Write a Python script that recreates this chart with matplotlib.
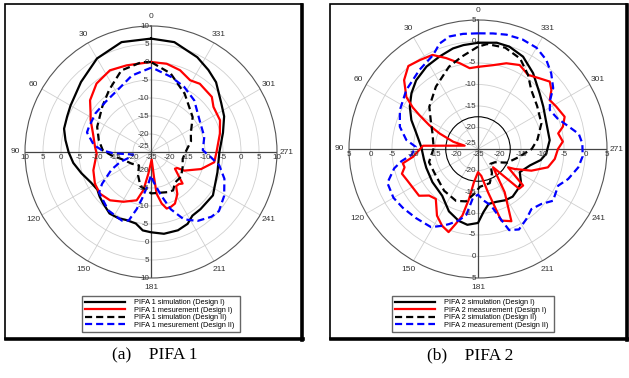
import numpy as np
import matplotlib
matplotlib.use('Agg')
import matplotlib.pyplot as plt
from matplotlib.lines import Line2D
from matplotlib.patches import Rectangle, Circle

plt.rcParams['font.family'] = ['Liberation Sans', 'DejaVu Sans']

# angle labels round the dial
theta_ticks = [0, 30, 60, 90, 120, 150, 180, 210, 240, 270, 300, 330]
theta_labels = ['0', '30', '60', '90', '120', '150', '181', '211', '241', '271', '301', '331']

# ---- PIFA 1 (angle in deg, gain in dB) ----
p1_sim1_ang = [0, 15, 30, 45, 60, 67, 75, 82, 90, 98, 107, 117, 125, 131, 137, 146, 154, 160, 168, 174,
               180, 189, 199, 207, 213, 221, 235, 253, 270, 285, 296, 305, 317, 325, 334, 348]
p1_sim1_db = [6.5, 6.6, 5, 2.5, 0.8, 0.3, 0, -1, -2.1, -3.2, -4.8, -6.3, -6.8, -6.1, -5.5, -4.4, -4.5, -4.9, -4.7, -3.1,
              -2.7, -2, -2, -2.6, -3.9, -4, -4, -5.7, -6, -4.3, -2.4, -1.2, 1.5, 2.8, 4.3, 6.2]

p1_mes1_ang = [0, 15.7, 26.7, 38.5, 49.7, 57.9, 62, 72.4, 84.9, 91.8, 107.6, 119.5, 129.2, 139.7, 151, 163.5,
               168.7, 173, 185, 186.8, 187.7, 191.7, 195.5, 200, 204.9, 212, 216.3, 221, 225, 235.2, 238.5,
               240.8, 251.2, 260.8, 270, 284.9, 294.7, 305.8, 312.2, 324.4, 331.4, 340.4, 349.9]
p1_mes1_db = [0, 0, 0.4, -0.7, -2.8, -5.2, -6, -8.1, -9.4, -9.9, -8.2, -7.1, -6.7, -7.4, -9.2, -11,
              -14.2, -18.9, -22.9, -18, -13.3, -10.4, -8.7, -8.8, -9.2, -11.2, -13.2, -13.2, -12.6, -16.9, -16.5,
              -14.4, -10.3, -7.2, -6.8, -5.2, -3.9, -3.6, -2.2, -1.7, -2.3, -0.9, -0.1]

p1_sim2_ang = [0, 6, 20, 34, 47, 65, 77, 88, 95, 104, 122, 138, 151, 163, 174, 180, 193, 203, 210, 218,
               231, 245, 258, 270, 285, 295, 310, 330, 346]
p1_sim2_db = [0, 0.1, -0.9, -4.2, -6.5, -8.5, -10.1, -11.6, -14, -16.7, -18.8, -20, -17.6, -15, -14.3, -13.5,
              -13.4, -12.9, -12.7, -14.2, -14.2, -15.3, -16, -15.4, -13.5, -12.8, -9.9, -6.3, -2.5]

p1_mes2_ang = [0, 14, 27, 42, 55, 68, 73, 83, 88, 92, 98, 104, 108, 114, 123, 128, 144, 157, 162, 166, 169,
               175, 180, 185, 193, 199, 206, 214, 223, 229, 239, 250, 259, 265, 272, 286, 303, 320, 333, 345, 358]
p1_mes2_db = [-1.6, -3.1, -5.3, -6.2, -6.2, -6.4, -6.4, -9, -11.4, -14.5, -20, -19, -16, -13, -8.8, -6.7, -4.9,
              -4.3, -5, -8.7, -11.7, -16, -18.5, -16.6, -12.7, -8.2, -4.2, -1.9, -0.4, 0, -1.3, -3.3, -5.7,
              -8.3, -10.6, -9.6, -8.9, -6.3, -4.7, -3.4, -1.8]

# ---- PIFA 2 ----
p2_sim1_ang = [0, 8, 14, 22.5, 32, 42, 50, 58, 66.5, 75.7, 88, 101, 110, 126, 142.6, 155, 165, 172, 180, 185,
               191, 199, 208, 216, 224, 232, 241, 252.6, 260, 266, 277, 290.6, 303, 312, 324, 334, 343, 350]
p2_sim1_db = [-0.3, -0.6, -0.9, -1.7, -2.4, -3.5, -4.8, -6.3, -8.1, -10.2, -11.8, -12.2, -12.2, -11.9, -11.3,
              -9, -7.7, -7.2, -7.8, -10.3, -12, -12, -11.5, -11.3, -11.8, -12.3, -13.9, -12.3, -10.2, -9.1,
              -8.2, -8, -6.9, -5.7, -3.2, -1.1, -0.1, 0.1]

p2_mes1_ang = [0, 5.9, 12, 19.3, 25.8, 33, 40, 47, 54, 57.5, 60, 64, 68, 73.7, 76, 86.6, 96.8, 100.8, 104,
               108, 114, 128.4, 133.6, 139.8, 148.4, 154.9, 160.5, 163.4, 166.8, 169.8, 173, 180, 187, 193,
               198, 204.8, 211.7, 219.5, 226, 231, 238.6, 241.4, 247.9, 255.3, 262.6, 270, 275, 281, 284.7,
               290.4, 298.4, 304.3, 308.8, 313.2, 318.9, 326, 333.6, 341.7, 349.9]
p2_mes1_db = [-5.9, -6.1, -4.6, -2.6, -0.7, -0.3, 0.2, -1.5, -4.4, -7, -9.3, -12.4, -15.4, -19, -21.8, -12.2,
              -9.8, -7.2, -7.4, -6.4, -7, -7.5, -9.3, -9.8, -6.8, -5.3, -4.5, -6.8, -9.1, -13.2, -17.2,
              -19.6, -18.7, -14.7, -7.5, -6.5, -13.2, -19.5, -11.7, -11.5, -16.8, -15.3, -11.6, -8.2, -7,
              -6.4, -5.2, -6, -4.6, -3.5, -4.3, -4.8, -3.1, -2.1, -3.2, -4.2, -3.2, -4, -5.2]

p2_sim2_ang = [0, 10, 19.4, 34, 49, 58.5, 71, 89, 105, 122, 141, 157, 167, 175, 183, 199, 210, 220, 232,
               245, 258, 270, 279, 292, 306, 318, 326, 335, 345, 355]
p2_sim2_db = [-1.2, -3.2, -4.7, -7.5, -10, -12.1, -13.8, -14.7, -13.2, -13.4, -12.5, -11.9, -12.5, -14.5,
              -16.2, -16.6, -18.5, -20.5, -20, -17.5, -15.5, -12.5, -11, -9.1, -8, -6.5, -4.2, -1.8, -0.6, -0.5]

p2_mes2_ang = [0, 7.4, 14.2, 20, 25.6, 36.4, 50.5, 63.5, 74.1, 82.8, 88, 95, 99, 103, 110.5, 120, 128, 138,
               149, 155, 159, 165, 170, 174, 180, 186, 193, 198, 201, 207, 214.6, 221.6, 229, 235.4, 245.4,
               251.6, 259.6, 266, 273, 278.5, 284, 291, 298.5, 304, 309, 316, 322.5, 330, 338, 346, 352.6]
p2_mes2_db = [1.9, 2, 2, 1.1, -0.8, -2.1, -3.4, -4.7, -6.1, -8.2, -10.5, -9.5, -7, -5, -2.5, -2.3, -2.8, -3.4,
              -3.8, -5.3, -6.3, -7.8, -9.5, -13.5, -14.4, -13, -11.5, -7.8, -4.8, -4, -5.2, -6.3, -5.5, -3.8,
              -4.5, -2.9, -1.3, -0.6, -0.7, -1.3, -3.3, -5.2, -6, -4.8, -2.5, -0.5, 1.1, 2.2, 2.5, 2.4, 2.1]

legend_1 = ['PIFA 1 simulation (Design I)', 'PIFA 1 mesurement (Design I)',
            'PIFA 1 simulation (Design II)', 'PIFA 1 mesurement (Design II)']
legend_2 = ['PIFA 2 simulation (Design I)', 'PIFA 2 measurement (Design I)',
            'PIFA 2 simulation (Design II)', 'PIFA 2 measurement (Design II)']

W, H = 629, 378
fig = plt.figure(figsize=(W / 100, H / 100), dpi=100)

dash = (0, (3.2, 1.8))
styles = [dict(color='black', ls='-'), dict(color='#ff0000', ls='-'),
          dict(color='black', ls=dash), dict(color='#0000ff', ls=dash)]


def closed(ang, db):
    a = np.radians(list(ang) + [ang[0]])
    return a, list(db) + [db[0]]


def polar_panel(cx, cy, rad, rmin, rmax, curves, ring=None):
    ax = fig.add_axes([(cx - rad) / W, (H - cy - rad) / H, 2 * rad / W, 2 * rad / H], projection='polar')
    ax.set_theta_zero_location('N')
    ax.set_theta_direction(1)
    ax.set_ylim(rmin, rmax)
    ax.set_yticks(np.arange(rmin + 5, rmax, 5))
    ax.set_yticklabels([])
    ax.set_xticks(np.radians(theta_ticks))
    ax.set_xticklabels(theta_labels)
    ax.tick_params(axis='x', pad=-3.5, labelsize=6, colors='#333333')
    ax.grid(True, color='#cfcfcf', lw=0.6)
    ax.spines['polar'].set_color('#555555')
    ax.spines['polar'].set_linewidth(0.8)

    # axis cross
    for t in (0, 90):
        ax.plot([np.radians(t), np.radians(t)], [rmax, rmin], color='#444444', lw=0.9, zorder=2)
        ax.plot([np.radians(t + 180), np.radians(t + 180)], [rmin, rmax], color='#444444', lw=0.9, zorder=2)

    if ring is not None:
        ax.add_patch(Circle((0.5, 0.5), 0.5 * (ring - rmin) / (rmax - rmin), transform=ax.transAxes,
                            fill=False, ec='black', lw=0.8, zorder=2))

    # radial value labels along the cross
    kw = dict(textcoords='offset points', fontsize=5.8, color='#333333', zorder=5)
    for v in range(rmin + 5, rmax + 1, 5):
        s = str(v)
        ax.annotate(s, (0, v), xytext=(-1.5, 0), ha='right', va='center', **kw)
        ax.annotate(s, (np.pi, v), xytext=(-1.5, 0), ha='right', va='center', **kw)
        ax.annotate(s, (np.pi / 2, v), xytext=(0, -1.5), ha='center', va='top', **kw)
        ax.annotate(s, (3 * np.pi / 2, v), xytext=(0, -1.5), ha='center', va='top', **kw)
    ax.annotate(str(rmin), (0, rmin), xytext=(-1.5, 1.5), ha='right', va='bottom', **kw)
    ax.annotate(str(rmin), (0, rmin), xytext=(0, -1.5), ha='center', va='top', **kw)

    for (ang, db), st in zip(curves, styles):
        a, d = closed(ang, db)
        ax.plot(a, d, lw=1.6, zorder=4, **st)
    return ax


polar_panel(151, 152, 126, -25, 10,
            [(p1_sim1_ang, p1_sim1_db), (p1_mes1_ang, p1_mes1_db),
             (p1_sim2_ang, p1_sim2_db), (p1_mes2_ang, p1_mes2_db)])
polar_panel(478, 149, 129, -25, 5,
            [(p2_sim1_ang, p2_sim1_db), (p2_mes1_ang, p2_mes1_db),
             (p2_sim2_ang, p2_sim2_db), (p2_mes2_ang, p2_mes2_db)], ring=-17.5)

# legends
for x0, x1, labels in [(82, 240, legend_1), (392, 554, legend_2)]:
    handles = [Line2D([], [], lw=1.6, **st) for st in styles]
    fig.legend(handles, labels, loc='upper left',
               bbox_to_anchor=(x0 / W, 1 - 331 / H, (x1 - x0) / W, 35 / H), mode='expand',
               fontsize=5.3, handlelength=5.5, handletextpad=1.2, borderpad=0.4, labelspacing=0.05,
               fancybox=False, edgecolor='#666666', framealpha=1, borderaxespad=0)

# panel frames with heavy right/bottom edge
for x0, x1 in [(5, 302), (330, 627)]:
    y0, y1 = 4, 339
    fig.patches.append(Rectangle((x0 / W, 1 - y1 / H), (x1 - x0) / W, (y1 - y0) / H,
                                 transform=fig.transFigure, fill=False, ec='black', lw=1.2))
    fig.lines.append(Line2D([x1 / W, x1 / W], [1 - (y1 + 1) / H, 1 - (y0 + 1) / H],
                            transform=fig.transFigure, color='black', lw=2.6))
    fig.lines.append(Line2D([(x0 + 1) / W, (x1 + 1) / W], [1 - y1 / H, 1 - y1 / H],
                            transform=fig.transFigure, color='black', lw=2.6))

cap = dict(family='Liberation Serif', fontsize=12.5, ha='center', va='center')
fig.text(155 / W, 1 - 355 / H, '(a)    PIFA 1', **cap)
fig.text(470 / W, 1 - 355 / H, '(b)    PIFA 2', **cap)

fig.savefig('out.png', dpi=100)
